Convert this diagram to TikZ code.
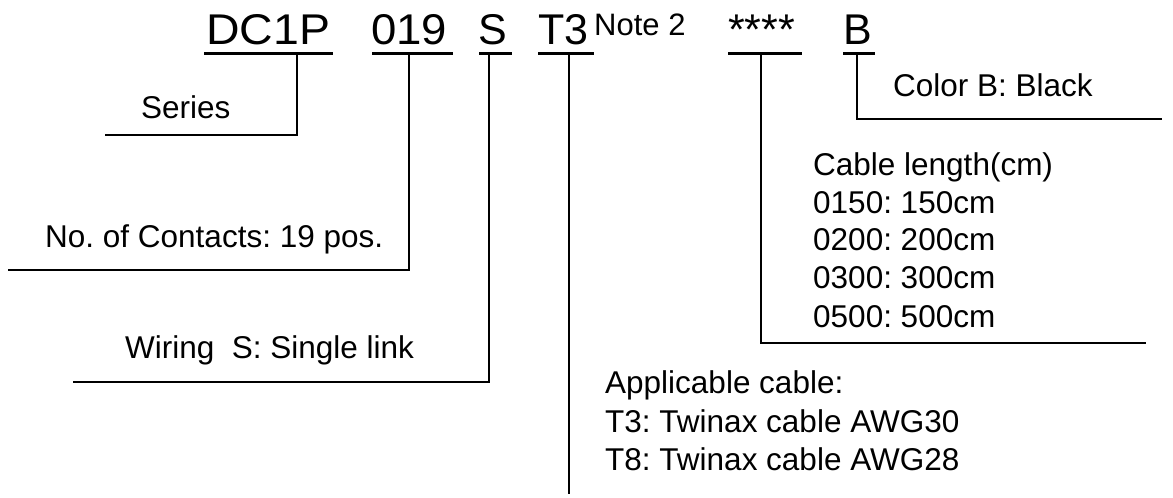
\documentclass[tikz,border=0pt]{standalone}
\usepackage{fontspec}
\setmainfont{Liberation Sans}
\frenchspacing
\begin{document}
\begin{tikzpicture}[x=1pt,y=-1pt,
  code/.style={anchor=base west,inner sep=0pt,font=\fontsize{43}{50}\selectfont},
  note/.style={anchor=base west,inner sep=0pt,font=\fontsize{31}{36}\selectfont},
  lbl/.style={anchor=base west,inner sep=0pt,font=\fontsize{31.5}{38.5}\selectfont},
  uline/.style={line width=3pt},
  leader/.style={line width=1.5pt}]
\useasboundingbox (0,0) rectangle (1173,498);
% code letters
\node[code] (dc) at (206,44) {\scalebox{1.08}[1]{DC1P}};
\node[code] (num) at (371,44) {\scalebox{1.06}[1]{019}};
\node[code] (s) at (478,44) {S};
\node[code] (t3) at (538,44) {T3};
\node[note] (nt) at (594,35) {Note 2};
\node[code] (len) at (728,44) {****};
\node[code] (b) at (843,44) {B};
% underlines
\coordinate (dcL) at (204,53); \coordinate (dcR) at (333,53);
\coordinate (numL) at (372,53); \coordinate (numR) at (453,53);
\coordinate (sL) at (479,53); \coordinate (sR) at (512,53);
\coordinate (tL) at (538,53); \coordinate (tR) at (594,53);
\coordinate (lL) at (728,53); \coordinate (lR) at (802,53);
\coordinate (bL) at (843,53); \coordinate (bR) at (875,53);
\draw[uline] (dcL) -- (dcR);
\draw[uline] (numL) -- (numR);
\draw[uline] (sL) -- (sR);
\draw[uline] (tL) -- (tR);
\draw[uline] (lL) -- (lR);
\draw[uline] (bL) -- (bR);
% labels
\node[lbl] (series) at (141,118) {Series};
\node[lbl] (contacts) at (45,247) {No. of Contacts: 19 pos.};
\node[lbl] (wiring) at (125,358) {Wiring\ \ S: Single link};
\node[lbl] (cable1) at (605,393) {Applicable cable:};
\node[lbl] (cable2) at (605,432) {T3: Twinax cable AWG30};
\node[lbl] (cable3) at (605,470) {T8: Twinax cable AWG28};
\node[lbl] (len1) at (813,175) {Cable length(cm)};
\node[lbl] (len2) at (813,213) {0150: 150cm};
\node[lbl] (len3) at (813,250) {0200: 200cm};
\node[lbl] (len4) at (813,288) {0300: 300cm};
\node[lbl] (len5) at (813,327) {0500: 500cm};
\node[lbl] (color) at (893,96) {Color B: Black};
% leader corners
\coordinate (dcT) at (297,53); \coordinate (dcC) at (297,135); \coordinate (dcE) at (105,135);
\coordinate (numT) at (409,53); \coordinate (numC) at (409,270); \coordinate (numE) at (8,270);
\coordinate (sT) at (489,53); \coordinate (sC) at (489,382); \coordinate (sE) at (73,382);
\coordinate (tT) at (569,53); \coordinate (tE) at (569,494);
\coordinate (lT) at (761,53); \coordinate (lC) at (761,343); \coordinate (lE) at (1146,343);
\coordinate (bT) at (857,53); \coordinate (bC) at (857,119); \coordinate (bE) at (1162,119);
\draw[leader] (dcT) -- (dcC) -- (dcE);
\draw[leader] (numT) -- (numC) -- (numE);
\draw[leader] (sT) -- (sC) -- (sE);
\draw[leader] (tT) -- (tE);
\draw[leader] (lT) -- (lC) -- (lE);
\draw[leader] (bT) -- (bC) -- (bE);
\end{tikzpicture}
\end{document}
